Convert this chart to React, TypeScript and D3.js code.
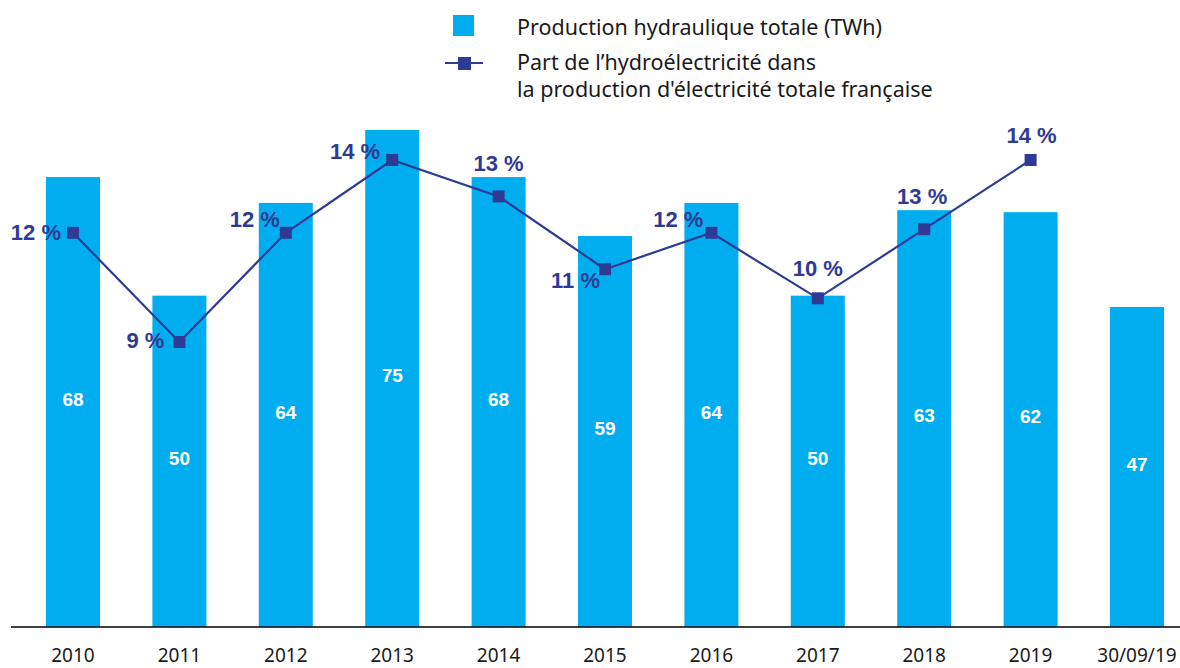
import React from 'react'
import { scaleBand, scaleLinear, line } from "d3";

const categories = ["2010", "2011", "2012", "2013", "2014", "2015", "2016", "2017", "2018", "2019", "30/09/19"];
const production = [67.9, 50, 64, 75, 67.9, 59, 64, 50, 62.9, 62.6, 48.3];
const productionLabels = ["68", "50", "64", "75", "68", "59", "64", "50", "63", "62", "47"];
const shareYears = ["2010", "2011", "2012", "2013", "2014", "2015", "2016", "2017", "2018", "2019"];
const share = [12, 9, 12, 14, 13, 11, 12, 10.2, 12.1, 14];
const shareLabels = ["12 %", "9 %", "12 %", "14 %", "13 %", "11 %", "12 %", "10 %", "13 %", "14 %"];

// label placement for each share point: [dx, dy, anchor]
const shareLabelPos: [number, number, string][] = [
  [-12, 7, "end"], [-15, 6, "end"], [-6, -6, "end"], [-12, -1, "end"], [0, -25, "middle"],
  [-5, 19, "end"], [-8, -6, "end"], [0, -22, "middle"], [-2, -25, "middle"], [1, -17, "middle"],
];

const W = 1180;
const H = 668;
const BAR = "#00aeef";
const NAVY = "#2e3a93";
const TEXT_FONT = "'Noto Sans', sans-serif";
const NUM_FONT = "'Liberation Sans', Arial, sans-serif";

export default function App() {
  const x = scaleBand().domain(categories).range([19.8, 1190.2]).paddingInner(0.4925).paddingOuter(0.24625);
  const y = scaleLinear().domain([0, 75]).range([627, 130]);
  const yPct = scaleLinear().domain([9, 14]).range([342, 160]);
  const cx = (c: string) => (x(c) ?? 0) + x.bandwidth() / 2;

  const pts: [number, number][] = shareYears.map((c, i) => [cx(c), yPct(share[i])]);
  const path = line()(pts) ?? "";

  return (
    <svg width={W} height={H} style={{ position: "absolute", left: 0, top: 0 }}>
      {/* legend */}
      <rect x={453} y={15} width={21} height={21} fill={BAR} />
      <line x1={445} x2={483} y1={63} y2={63} stroke={NAVY} strokeWidth={2} />
      <rect x={458} y={57} width={13} height={13} fill={NAVY} />
      <g fontFamily={TEXT_FONT} fontSize={21.5} fill="#1a1a1a">
        <text x={517} y={35}>Production hydraulique totale (TWh)</text>
        <text x={517} y={70}>Part de l’hydroélectricité dans</text>
        <text x={517} y={97}>la production d'électricité totale française</text>
      </g>

      {/* bars */}
      {categories.map((c, i) => (
        <g key={c}>
          <rect x={x(c)} y={y(production[i])} width={x.bandwidth()} height={y(0) - y(production[i])} fill={BAR} />
          <text x={cx(c)} y={(y(production[i]) + y(0)) / 2} dy="0.2em" textAnchor="middle"
            fontFamily={NUM_FONT} fontWeight="bold" fontSize={19} fill="#fff">{productionLabels[i]}</text>
          <text x={cx(c)} y={662} textAnchor="middle" fontFamily={TEXT_FONT} fontSize={19} fill="#1a1a1a">{c}</text>
        </g>
      ))}

      {/* axis */}
      <line x1={11} x2={W} y1={627} y2={627} stroke="#000" strokeWidth={1.5} />

      {/* share line */}
      <path d={path} fill="none" stroke={NAVY} strokeWidth={2.2} />
      {pts.map(([px, py], i) => (
        <g key={i}>
          <rect x={px - 6} y={py - 6} width={12} height={12} fill={NAVY} />
          <text x={px + shareLabelPos[i][0]} y={py + shareLabelPos[i][1]} textAnchor={shareLabelPos[i][2]}
            fontFamily={NUM_FONT} fontWeight="bold" fontSize={22} fill={NAVY}>{shareLabels[i]}</text>
        </g>
      ))}
    </svg>
  );
}
